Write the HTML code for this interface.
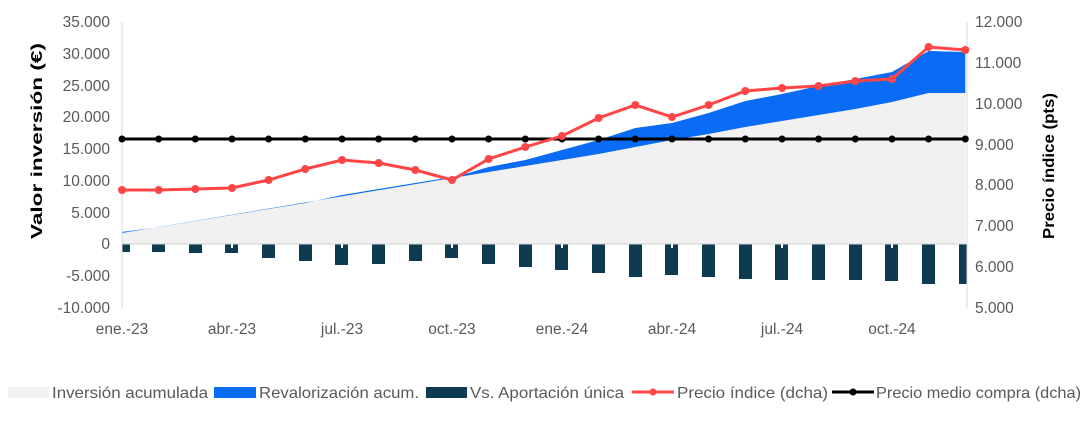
<!DOCTYPE html><html><head><meta charset="utf-8"><style>body{margin:0;background:#fff}svg{display:block;font-family:"Liberation Sans",sans-serif}</style></head><body>
<svg width="1082" height="422" viewBox="0 0 1082 422">
<polygon fill="#f1f1f1" points="122,244 122,232 158.7,227 195.3,221 232,215 268.6,209 305.3,203 342,196 378.6,190 415.3,184 452,178 488.6,172 525.3,166 562,160 598.6,154 635.3,147 672,140 708.6,134 745.3,127 782,121 818.6,115 855.3,109 892,102 928.6,93 965.3,93 965.3,244"/>
<polygon fill="#0a6cf5" points="452,178 488.6,167 525.3,160 562,150 598.6,140 635.3,128 672,123 708.6,113 745.3,101 782,94 818.6,86 855.3,79 892,72 928.6,51 965.3,52 965.3,93 928.6,93 892,102 855.3,109 818.6,115 782,121 745.3,127 708.6,134 672,140 635.3,147 598.6,154 562,160 525.3,166 488.6,172"/>
<polygon fill="#0a6cf5" points="122,232 158.7,227 195.3,221 232,215 268.6,209 305.3,203 342,195 378.6,189 415.3,183 452,177 452,178 122,233"/>
<g fill="#0e3a52">
<rect x="122" y="244" width="8" height="8"/><rect x="152" y="244" width="13" height="8"/><rect x="189" y="244" width="13" height="9"/><rect x="225" y="244" width="13" height="9"/><rect x="262" y="244" width="13" height="14"/><rect x="299" y="244" width="13" height="17"/><rect x="335" y="244" width="13" height="21"/><rect x="372" y="244" width="13" height="20"/><rect x="409" y="244" width="13" height="17"/><rect x="445" y="244" width="13" height="14"/><rect x="482" y="244" width="13" height="20"/><rect x="519" y="244" width="13" height="23"/><rect x="555" y="244" width="13" height="26"/><rect x="592" y="244" width="13" height="29"/><rect x="629" y="244" width="13" height="33"/><rect x="665" y="244" width="13" height="31"/><rect x="702" y="244" width="13" height="33"/><rect x="739" y="244" width="13" height="35"/><rect x="775" y="244" width="13" height="36"/><rect x="812" y="244" width="13" height="36"/><rect x="849" y="244" width="13" height="36"/><rect x="885" y="244" width="13" height="37"/><rect x="922" y="244" width="13" height="40"/><rect x="959" y="244" width="8" height="40"/>
</g>
<line x1="122" y1="244" x2="967" y2="244" stroke="#d0d0d0" stroke-width="1"/>
<line x1="122" y1="22" x2="122" y2="308" stroke="#d9d9d9"/>
<line x1="967" y1="22" x2="967" y2="308" stroke="#d9d9d9"/>
<g fill="#fff"><rect x="231" y="244" width="2" height="4"/><rect x="341" y="244" width="2" height="4"/><rect x="451" y="244" width="2" height="4"/><rect x="561" y="244" width="2" height="4"/><rect x="671" y="244" width="2" height="4"/><rect x="781" y="244" width="2" height="4"/><rect x="891" y="244" width="2" height="4"/></g>
<polyline fill="none" stroke="#000" stroke-width="3" points="122,139 965.3,139"/>
<g fill="#000">
<circle cx="122" cy="139" r="3.5"/><circle cx="158.7" cy="139" r="3.5"/><circle cx="195.3" cy="139" r="3.5"/><circle cx="232" cy="139" r="3.5"/><circle cx="268.6" cy="139" r="3.5"/><circle cx="305.3" cy="139" r="3.5"/><circle cx="342" cy="139" r="3.5"/><circle cx="378.6" cy="139" r="3.5"/><circle cx="415.3" cy="139" r="3.5"/><circle cx="452" cy="139" r="3.5"/><circle cx="488.6" cy="139" r="3.5"/><circle cx="525.3" cy="139" r="3.5"/><circle cx="562" cy="139" r="3.5"/><circle cx="598.6" cy="139" r="3.5"/><circle cx="635.3" cy="139" r="3.5"/><circle cx="672" cy="139" r="3.5"/><circle cx="708.6" cy="139" r="3.5"/><circle cx="745.3" cy="139" r="3.5"/><circle cx="782" cy="139" r="3.5"/><circle cx="818.6" cy="139" r="3.5"/><circle cx="855.3" cy="139" r="3.5"/><circle cx="892" cy="139" r="3.5"/><circle cx="928.6" cy="139" r="3.5"/><circle cx="965.3" cy="139" r="3.5"/>
</g>
<polyline fill="none" stroke="#ff4545" stroke-width="3" points="122,190 158.7,190 195.3,189 232,188 268.6,180 305.3,169 342,160 378.6,163 415.3,170 452,180 488.6,159 525.3,147 562,136 598.6,118 635.3,105 672,117 708.6,105 745.3,91 782,88 818.6,86 855.3,81 892,79 928.6,47 965.3,50"/>
<g fill="#ff4545">
<circle cx="122" cy="190" r="4"/><circle cx="158.7" cy="190" r="4"/><circle cx="195.3" cy="189" r="4"/><circle cx="232" cy="188" r="4"/><circle cx="268.6" cy="180" r="4"/><circle cx="305.3" cy="169" r="4"/><circle cx="342" cy="160" r="4"/><circle cx="378.6" cy="163" r="4"/><circle cx="415.3" cy="170" r="4"/><circle cx="452" cy="180" r="4"/><circle cx="488.6" cy="159" r="4"/><circle cx="525.3" cy="147" r="4"/><circle cx="562" cy="136" r="4"/><circle cx="598.6" cy="118" r="4"/><circle cx="635.3" cy="105" r="4"/><circle cx="672" cy="117" r="4"/><circle cx="708.6" cy="105" r="4"/><circle cx="745.3" cy="91" r="4"/><circle cx="782" cy="88" r="4"/><circle cx="818.6" cy="86" r="4"/><circle cx="855.3" cy="81" r="4"/><circle cx="892" cy="79" r="4"/><circle cx="928.6" cy="47" r="4"/><circle cx="965.3" cy="50" r="4"/>
</g>
<g font-size="15.5" fill="#595959" text-anchor="end">
<text x="110" y="27">35.000</text><text x="110" y="59">30.000</text><text x="110" y="91">25.000</text><text x="110" y="122">20.000</text><text x="110" y="154">15.000</text><text x="110" y="186">10.000</text><text x="110" y="218">5.000</text><text x="110" y="249">0</text><text x="110" y="281">-5.000</text><text x="110" y="313">-10.000</text>
</g>
<g font-size="15.5" fill="#595959" text-anchor="start">
<text x="975" y="27">12.000</text><text x="975" y="68">11.000</text><text x="975" y="109">10.000</text><text x="975" y="150">9.000</text><text x="975" y="190">8.000</text><text x="975" y="231">7.000</text><text x="975" y="272">6.000</text><text x="975" y="313">5.000</text>
</g>
<g font-size="15.5" fill="#595959" text-anchor="middle">
<text x="122" y="334">ene.-23</text><text x="232" y="334">abr.-23</text><text x="342" y="334">jul.-23</text><text x="452" y="334">oct.-23</text><text x="562" y="334">ene.-24</text><text x="672" y="334">abr.-24</text><text x="782" y="334">jul.-24</text><text x="892" y="334">oct.-24</text>
</g>
<text transform="translate(42,141) rotate(-90)" font-size="16" font-weight="bold" text-anchor="middle" fill="#000" textLength="196" lengthAdjust="spacingAndGlyphs">Valor inversión (€)</text>
<text transform="translate(1054,166) rotate(-90)" font-size="16" font-weight="bold" text-anchor="middle" fill="#000" textLength="146" lengthAdjust="spacingAndGlyphs">Precio índice (pts)</text>
<g font-size="16" fill="#595959">
<rect x="8" y="387" width="41" height="11" fill="#f1f1f1"/><text x="52" y="398" textLength="156" lengthAdjust="spacingAndGlyphs">Inversión acumulada</text>
<rect x="214" y="387" width="42" height="11" fill="#0a6cf5"/><text x="259" y="398" textLength="160" lengthAdjust="spacingAndGlyphs">Revalorización acum.</text>
<rect x="426" y="387" width="41" height="11" fill="#0e3a52"/><text x="470" y="398" textLength="154" lengthAdjust="spacingAndGlyphs">Vs. Aportación única</text>
<line x1="632" y1="392" x2="674" y2="392" stroke="#ff4545" stroke-width="3"/><circle cx="653" cy="392" r="3.5" fill="#ff4545"/><text x="677" y="398" textLength="151" lengthAdjust="spacingAndGlyphs">Precio índice (dcha)</text>
<line x1="832" y1="392" x2="874" y2="392" stroke="#000" stroke-width="3"/><circle cx="853" cy="392" r="3.5" fill="#000"/><text x="876" y="398" textLength="205" lengthAdjust="spacingAndGlyphs">Precio medio compra (dcha)</text>
</g>
</svg>
</body></html>
